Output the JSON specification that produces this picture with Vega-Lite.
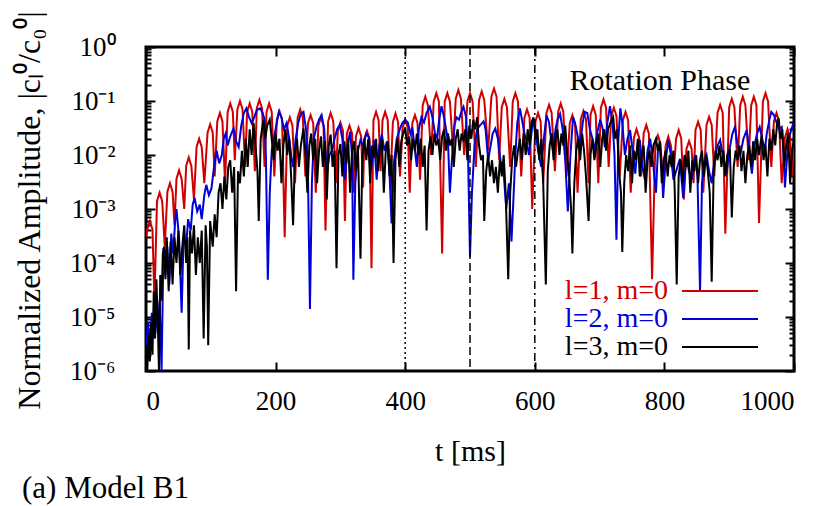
{
"$schema": "https://vega.github.io/schema/vega-lite/v6.json",
"width": 648, "height": 324,
"autosize": {"type": "none"},
"padding": {"left": 146, "top": 47, "right": 36, "bottom": 135},
"config": {
  "font": "Liberation Serif",
  "view": {"stroke": "black", "strokeWidth": 3},
  "axis": {"labelFont": "Liberation Serif", "titleFont": "Liberation Serif", "labelFontSize": 27, "titleFontSize": 30, "titleFontWeight": "normal", "labelColor": "black", "titleColor": "black", "domain": false, "grid": false, "tickColor": "black", "tickWidth": 2}
},
"title": {"text": "(a) Model B1", "orient": "bottom", "anchor": "start", "frame": "bounds", "font": "Liberation Serif", "fontSize": 31, "fontWeight": "normal", "color": "black", "offset": 8, "dx": 9},
"datasets": {
"red": [
{"t":0,"a":3e-4},
{"t":2,"a":4.2e-4},{"t":6,"a":6e-4},{"t":10,"a":4.2e-4},{"t":13,"a":2e-5},
{"t":17,"a":1.4e-3},{"t":21,"a":2e-3},{"t":25,"a":1.4e-3},{"t":29,"a":2e-4},
{"t":33,"a":2.1e-3},{"t":37,"a":3e-3},{"t":41,"a":2.1e-3},{"t":44,"a":5e-4},
{"t":47,"a":3.6e-3},{"t":51,"a":5.2e-3},{"t":55,"a":3.6e-3},{"t":59,"a":1e-3},
{"t":62,"a":6.3e-3},{"t":66,"a":9e-3},{"t":70,"a":6.3e-3},{"t":74,"a":1.5e-3},
{"t":78,"a":0.014},{"t":82,"a":0.02},{"t":86,"a":0.014},{"t":90,"a":3e-3},
{"t":95,"a":0.026},{"t":99,"a":0.037},{"t":103,"a":0.026},{"t":106,"a":4e-3},
{"t":110,"a":0.042},{"t":114,"a":0.06},{"t":118,"a":0.042},{"t":122,"a":3e-3},
{"t":126,"a":0.063},{"t":130,"a":0.09},{"t":134,"a":0.063},{"t":137,"a":8e-3},
{"t":141,"a":0.07},{"t":145,"a":0.1},{"t":149,"a":0.07},{"t":153,"a":6e-3},
{"t":156,"a":0.063},{"t":160,"a":0.09},{"t":164,"a":0.063},{"t":168,"a":5e-3},
{"t":171,"a":0.074},{"t":175,"a":0.105},{"t":179,"a":0.074},{"t":183,"a":6e-3},
{"t":186,"a":0.063},{"t":190,"a":0.09},{"t":194,"a":0.063},{"t":198,"a":4e-3},
{"t":202,"a":0.046},{"t":206,"a":0.065},{"t":210,"a":0.046},{"t":214,"a":3e-4},
{"t":218,"a":0.035},{"t":222,"a":0.05},{"t":226,"a":0.035},{"t":230,"a":3e-3},
{"t":234,"a":0.049},{"t":238,"a":0.07},{"t":242,"a":0.049},{"t":246,"a":4e-3},
{"t":250,"a":0.039},{"t":254,"a":0.055},{"t":258,"a":0.039},{"t":262,"a":2e-3},
{"t":266,"a":0.035},{"t":270,"a":0.05},{"t":274,"a":0.035},{"t":277,"a":4e-4},
{"t":281,"a":0.042},{"t":285,"a":0.06},{"t":289,"a":0.042},{"t":293,"a":3e-3},
{"t":296,"a":0.028},{"t":300,"a":0.04},{"t":304,"a":0.028},{"t":307,"a":6e-4},
{"t":310,"a":0.025},{"t":314,"a":0.035},{"t":318,"a":0.025},{"t":321,"a":2e-3},
{"t":324,"a":0.022},{"t":328,"a":0.032},{"t":332,"a":0.022},{"t":335,"a":2.5e-3},
{"t":337,"a":0.02},{"t":341,"a":0.028},{"t":345,"a":0.02},{"t":348,"a":8e-5},
{"t":351,"a":0.044},{"t":355,"a":0.063},{"t":359,"a":0.044},{"t":362,"a":5e-3},
{"t":365,"a":0.044},{"t":369,"a":0.063},{"t":373,"a":0.044},{"t":377,"a":3e-3},
{"t":381,"a":0.041},{"t":385,"a":0.059},{"t":389,"a":0.041},{"t":392,"a":4e-3},
{"t":396,"a":0.032},{"t":400,"a":0.045},{"t":404,"a":0.032},{"t":407,"a":2e-3},
{"t":411,"a":0.039},{"t":415,"a":0.055},{"t":419,"a":0.039},{"t":423,"a":3.5e-3},
{"t":427,"a":0.084},{"t":431,"a":0.12},{"t":435,"a":0.084},{"t":440,"a":0.01},
{"t":444,"a":0.098},{"t":448,"a":0.14},{"t":452,"a":0.098},{"t":457,"a":1.5e-4},
{"t":461,"a":0.098},{"t":465,"a":0.14},{"t":469,"a":0.098},{"t":474,"a":0.012},
{"t":478,"a":0.11},{"t":482,"a":0.16},{"t":486,"a":0.11},{"t":491,"a":0.01},
{"t":496,"a":0.098},{"t":500,"a":0.14},{"t":504,"a":0.098},{"t":509,"a":6e-3},
{"t":514,"a":0.105},{"t":518,"a":0.15},{"t":522,"a":0.105},{"t":528,"a":0.012},
{"t":533,"a":0.12},{"t":537,"a":0.17},{"t":541,"a":0.12},{"t":545,"a":8e-3},
{"t":549,"a":0.077},{"t":553,"a":0.11},{"t":557,"a":0.077},{"t":562,"a":6e-3},
{"t":566,"a":0.098},{"t":570,"a":0.14},{"t":574,"a":0.098},{"t":579,"a":4e-3},
{"t":584,"a":0.049},{"t":588,"a":0.07},{"t":592,"a":0.049},{"t":596,"a":1e-3},
{"t":601,"a":0.042},{"t":605,"a":0.06},{"t":609,"a":0.042},{"t":613,"a":3e-3},
{"t":618,"a":0.06},{"t":622,"a":0.085},{"t":626,"a":0.06},{"t":631,"a":5e-3},
{"t":636,"a":0.063},{"t":640,"a":0.09},{"t":644,"a":0.063},{"t":649,"a":4e-3},
{"t":654,"a":0.039},{"t":658,"a":0.055},{"t":662,"a":0.039},{"t":666,"a":2e-3},
{"t":671,"a":0.046},{"t":675,"a":0.065},{"t":679,"a":0.046},{"t":683,"a":3e-3},
{"t":686,"a":0.056},{"t":690,"a":0.08},{"t":694,"a":0.056},{"t":698,"a":3e-3},
{"t":702,"a":0.075},{"t":706,"a":0.107},{"t":710,"a":0.075},{"t":714,"a":6e-3},
{"t":718,"a":0.053},{"t":722,"a":0.075},{"t":726,"a":0.053},{"t":731,"a":4e-3},
{"t":736,"a":0.044},{"t":740,"a":0.063},{"t":744,"a":0.044},{"t":748,"a":2e-3},
{"t":753,"a":0.021},{"t":757,"a":0.03},{"t":761,"a":0.021},{"t":764,"a":4e-3},
{"t":768,"a":0.025},{"t":772,"a":0.036},{"t":776,"a":0.025},{"t":781,"a":5e-5},
{"t":786,"a":0.016},{"t":790,"a":0.023},{"t":794,"a":0.016},{"t":798,"a":3e-3},
{"t":802,"a":0.015},{"t":806,"a":0.022},{"t":810,"a":0.015},{"t":814,"a":4e-3},
{"t":818,"a":0.02},{"t":822,"a":0.029},{"t":826,"a":0.02},{"t":830,"a":1.5e-3},
{"t":834,"a":0.013},{"t":838,"a":0.018},{"t":842,"a":0.013},{"t":845,"a":3e-3},
{"t":848,"a":0.029},{"t":852,"a":0.041},{"t":856,"a":0.029},{"t":860,"a":2e-3},
{"t":865,"a":0.036},{"t":869,"a":0.051},{"t":873,"a":0.036},{"t":877,"a":4e-3},
{"t":882,"a":0.06},{"t":886,"a":0.085},{"t":890,"a":0.06},{"t":894,"a":3.5e-4},
{"t":900,"a":0.077},{"t":904,"a":0.11},{"t":908,"a":0.077},{"t":913,"a":6e-3},
{"t":917,"a":0.084},{"t":921,"a":0.12},{"t":925,"a":0.084},{"t":930,"a":8e-3},
{"t":934,"a":0.084},{"t":938,"a":0.12},{"t":942,"a":0.084},{"t":946,"a":5.5e-4},
{"t":952,"a":0.098},{"t":956,"a":0.14},{"t":960,"a":0.098},{"t":965,"a":6e-3},
{"t":969,"a":0.042},{"t":973,"a":0.06},{"t":977,"a":0.042},{"t":981,"a":3e-3},
{"t":986,"a":0.021},{"t":990,"a":0.03},{"t":994,"a":0.021},{"t":997,"a":4e-3},
{"t":1000,"a":0.015}
],
"blue": [
{"t":0,"a":3e-6},{"t":3,"a":8e-6},{"t":6,"a":3e-6},{"t":9,"a":1.2e-5},{"t":12,"a":4e-6},{"t":15,"a":1.5e-5},{"t":18,"a":5e-6},{"t":21,"a":2e-5},{"t":24,"a":1e-6},{"t":27,"a":1.9e-4},
{"t":30,"a":6e-5},{"t":33,"a":2e-4},{"t":36,"a":4e-5},{"t":39,"a":3.5e-4},{"t":42,"a":1.5e-4},{"t":45,"a":6e-4},{"t":47,"a":1e-3},{"t":51,"a":3e-4},{"t":55,"a":1.2e-5},{"t":58,"a":3e-4},
{"t":62,"a":2e-4},{"t":65,"a":6.5e-4},{"t":69,"a":4e-4},{"t":72,"a":1.2e-3},{"t":75,"a":1.6e-3},{"t":79,"a":9e-4},{"t":83,"a":1.2e-3},{"t":86,"a":6.5e-4},{"t":90,"a":1.8e-3},{"t":93,"a":2.8e-3},
{"t":97,"a":1.8e-3},{"t":101,"a":2.4e-3},{"t":105,"a":6e-3},{"t":109,"a":0.012},{"t":113,"a":7e-3},{"t":117,"a":0.01},{"t":120,"a":0.02},{"t":123,"a":0.025},{"t":126,"a":0.015},{"t":130,"a":0.022},
{"t":135,"a":0.031},{"t":139,"a":0.018},{"t":143,"a":0.014},{"t":147,"a":0.035},{"t":151,"a":0.06},{"t":155,"a":0.073},{"t":159,"a":0.05},{"t":163,"a":0.039},{"t":167,"a":0.05},{"t":171,"a":0.068},
{"t":176,"a":0.073},{"t":180,"a":0.06},{"t":183,"a":0.045},{"t":185,"a":0.01},{"t":188,"a":4.9e-5},{"t":191,"a":2e-3},{"t":194,"a":0.012},{"t":197,"a":0.019},{"t":201,"a":0.035},{"t":205,"a":0.063},
{"t":209,"a":0.05},{"t":213,"a":0.03},{"t":217,"a":0.039},{"t":221,"a":0.02},{"t":225,"a":8e-3},{"t":227,"a":6e-3},{"t":231,"a":0.02},{"t":235,"a":0.04},{"t":239,"a":0.058},{"t":243,"a":0.063},
{"t":247,"a":0.03},{"t":250,"a":4e-3},{"t":253,"a":1.4e-5},{"t":256,"a":3e-3},{"t":259,"a":0.02},{"t":263,"a":0.033},{"t":267,"a":0.045},{"t":271,"a":0.055},{"t":275,"a":0.03},{"t":279,"a":4.5e-3},
{"t":283,"a":0.01},{"t":287,"a":0.012},{"t":291,"a":0.02},{"t":295,"a":0.03},{"t":299,"a":0.036},{"t":303,"a":0.02},{"t":307,"a":3.5e-3},{"t":311,"a":0.015},{"t":315,"a":0.027},{"t":318,"a":0.01},
{"t":320,"a":4.9e-5},{"t":323,"a":3e-3},{"t":327,"a":0.012},{"t":331,"a":0.019},{"t":335,"a":0.015},{"t":340,"a":0.025},{"t":344,"a":0.021},{"t":348,"a":6e-3},{"t":352,"a":0.019},{"t":356,"a":3.5e-3},
{"t":360,"a":0.015},{"t":364,"a":0.024},{"t":368,"a":0.012},{"t":372,"a":0.018},{"t":376,"a":4e-3},{"t":379,"a":5.4e-4},{"t":383,"a":8e-3},{"t":387,"a":0.02},{"t":392,"a":0.031},{"t":396,"a":0.04},
{"t":400,"a":0.045},{"t":404,"a":0.04},{"t":408,"a":0.025},{"t":411,"a":0.033},{"t":415,"a":0.012},{"t":418,"a":6e-3},{"t":421,"a":0.03},{"t":425,"a":0.05},{"t":429,"a":0.04},{"t":433,"a":0.06},
{"t":438,"a":0.078},{"t":442,"a":0.05},{"t":446,"a":0.025},{"t":449,"a":0.02},{"t":453,"a":0.05},{"t":456,"a":0.08},{"t":460,"a":0.05},{"t":463,"a":0.03},{"t":466,"a":0.018},{"t":469,"a":2e-3},
{"t":472,"a":8e-3},{"t":476,"a":0.035},{"t":479,"a":0.05},{"t":483,"a":0.045},{"t":486,"a":0.06},{"t":490,"a":0.078},{"t":494,"a":0.05},{"t":497,"a":0.01},{"t":500,"a":1.3e-4},{"t":503,"a":2e-3},
{"t":507,"a":0.015},{"t":511,"a":0.03},{"t":515,"a":0.035},{"t":518,"a":0.038},{"t":521,"a":0.042},{"t":524,"a":0.03},{"t":528,"a":8e-3},{"t":531,"a":0.013},{"t":535,"a":0.025},{"t":539,"a":0.031},
{"t":543,"a":0.02},{"t":547,"a":8e-3},{"t":552,"a":4.5e-3},{"t":556,"a":1e-3},{"t":560,"a":3e-3},{"t":564,"a":2.5e-4},{"t":567,"a":1.5e-3},{"t":570,"a":0.01},{"t":573,"a":0.04},{"t":577,"a":0.073},
{"t":581,"a":0.04},{"t":584,"a":0.025},{"t":587,"a":0.019},{"t":591,"a":0.01},{"t":594,"a":0.02},{"t":597,"a":0.045},{"t":601,"a":0.03},{"t":605,"a":0.012},{"t":610,"a":6e-3},{"t":614,"a":0.02},
{"t":618,"a":0.055},{"t":622,"a":0.04},{"t":625,"a":0.02},{"t":628,"a":0.012},{"t":632,"a":0.03},{"t":635,"a":0.045},{"t":639,"a":0.058},{"t":643,"a":0.03},{"t":647,"a":8e-3},{"t":651,"a":9e-4},
{"t":655,"a":0.01},{"t":659,"a":0.05},{"t":663,"a":0.035},{"t":667,"a":0.02},{"t":670,"a":0.015},{"t":674,"a":0.04},{"t":677,"a":0.063},{"t":681,"a":0.06},{"t":685,"a":0.03},{"t":689,"a":0.02},
{"t":692,"a":0.012},{"t":696,"a":0.025},{"t":701,"a":0.045},{"t":705,"a":0.03},{"t":708,"a":0.014},{"t":712,"a":0.04},{"t":716,"a":0.08},{"t":720,"a":0.04},{"t":723,"a":0.01},{"t":726,"a":2.7e-4},
{"t":729,"a":0.02},{"t":732,"a":0.073},{"t":735,"a":0.04},{"t":739,"a":0.01},{"t":743,"a":0.02},{"t":747,"a":0.029},{"t":751,"a":0.012},{"t":755,"a":4.5e-3},{"t":758,"a":0.012},{"t":762,"a":0.019},
{"t":766,"a":6e-3},{"t":770,"a":3.5e-3},{"t":774,"a":0.012},{"t":778,"a":0.02},{"t":782,"a":8e-3},{"t":787,"a":2e-3},{"t":790,"a":0.012},{"t":793,"a":0.016},{"t":796,"a":6e-3},{"t":798,"a":1.6e-3},
{"t":802,"a":8e-3},{"t":806,"a":0.019},{"t":810,"a":0.01},{"t":814,"a":3.5e-3},{"t":818,"a":5e-3},{"t":824,"a":8.5e-3},{"t":827,"a":3e-3},{"t":829,"a":1.6e-3},{"t":832,"a":5e-3},{"t":834,"a":9e-3},
{"t":838,"a":5e-3},{"t":842,"a":3.5e-3},{"t":847,"a":0.01},{"t":851,"a":4e-3},{"t":855,"a":3e-5},{"t":858,"a":3e-3},{"t":862,"a":8e-3},{"t":865,"a":0.01},{"t":869,"a":5e-3},{"t":873,"a":3e-3},
{"t":877,"a":8e-3},{"t":882,"a":0.015},{"t":886,"a":0.019},{"t":890,"a":0.01},{"t":894,"a":6e-3},{"t":896,"a":4.5e-3},{"t":900,"a":0.012},{"t":905,"a":0.025},{"t":909,"a":0.033},{"t":913,"a":0.015},
{"t":917,"a":0.01},{"t":922,"a":0.02},{"t":927,"a":0.029},{"t":931,"a":0.012},{"t":935,"a":4.5e-3},{"t":939,"a":0.015},{"t":943,"a":0.025},{"t":947,"a":0.033},{"t":951,"a":0.02},{"t":955,"a":0.012},
{"t":958,"a":0.025},{"t":962,"a":0.045},{"t":965,"a":0.063},{"t":969,"a":0.055},{"t":973,"a":0.04},{"t":977,"a":0.03},{"t":981,"a":0.033},{"t":984,"a":0.01},{"t":986,"a":2.5e-3},{"t":989,"a":8e-3},
{"t":992,"a":0.02},{"t":995,"a":0.027},{"t":999,"a":0.039},{"t":1000,"a":0.04}
],
"black": [
{"t":0,"a":2e-6},{"t":2,"a":1e-6},{"t":4,"a":5e-6},{"t":6,"a":1.5e-6},{"t":8,"a":8e-6},{"t":10,"a":2e-6},{"t":12,"a":3e-5},{"t":14,"a":4e-6},{"t":16,"a":5e-5},{"t":18,"a":1e-5},
{"t":20,"a":1e-6},{"t":22,"a":6e-5},{"t":24,"a":2e-5},{"t":26,"a":1.5e-4},{"t":28,"a":2e-4},{"t":30,"a":5e-5},{"t":32,"a":3e-4},{"t":35,"a":3e-5},{"t":38,"a":2.5e-4},{"t":41,"a":4e-5},
{"t":44,"a":3e-4},{"t":47,"a":1e-4},{"t":50,"a":4e-4},{"t":53,"a":6e-5},{"t":56,"a":2e-4},{"t":59,"a":5e-4},{"t":62,"a":1e-4},{"t":64,"a":3e-4},{"t":66,"a":2.5e-6},{"t":68,"a":4e-4},
{"t":71,"a":1.5e-4},{"t":74,"a":5e-4},{"t":77,"a":6e-5},{"t":80,"a":3e-4},{"t":83,"a":1e-4},{"t":86,"a":4e-4},{"t":89,"a":4e-6},{"t":92,"a":5e-4},{"t":94,"a":2e-4},{"t":96,"a":3e-6},
{"t":99,"a":6e-4},{"t":103,"a":2e-4},{"t":106,"a":8e-4},{"t":109,"a":3e-4},{"t":112,"a":2e-3},{"t":115,"a":3e-3},{"t":118,"a":1e-3},{"t":121,"a":4e-3},{"t":124,"a":1.5e-3},{"t":127,"a":6e-3},
{"t":130,"a":8e-3},{"t":133,"a":2e-3},{"t":136,"a":6e-3},{"t":139,"a":3e-5},{"t":142,"a":5e-3},{"t":145,"a":3e-3},{"t":148,"a":0.012},{"t":151,"a":4e-3},{"t":154,"a":0.02},{"t":157,"a":6e-3},
{"t":160,"a":0.03},{"t":163,"a":0.01},{"t":166,"a":0.039},{"t":169,"a":0.015},{"t":172,"a":5e-3},{"t":174,"a":6e-4},{"t":177,"a":0.02},{"t":181,"a":0.045},{"t":184,"a":0.02},{"t":187,"a":0.035},
{"t":191,"a":0.045},{"t":194,"a":0.02},{"t":197,"a":8e-3},{"t":200,"a":0.025},{"t":203,"a":0.012},{"t":206,"a":0.02},{"t":209,"a":3e-3},{"t":212,"a":0.015},{"t":215,"a":0.03},{"t":218,"a":0.01},
{"t":221,"a":0.02},{"t":224,"a":4e-3},{"t":227,"a":5e-4},{"t":230,"a":0.012},{"t":233,"a":0.02},{"t":236,"a":6e-3},{"t":239,"a":0.015},{"t":243,"a":0.031},{"t":246,"a":0.012},{"t":249,"a":2e-3},
{"t":252,"a":0.015},{"t":255,"a":0.025},{"t":258,"a":8e-3},{"t":261,"a":0.02},{"t":264,"a":3e-3},{"t":267,"a":0.012},{"t":270,"a":0.022},{"t":273,"a":6e-3},{"t":276,"a":0.018},{"t":279,"a":1.5e-3},
{"t":282,"a":0.015},{"t":285,"a":0.024},{"t":288,"a":6e-3},{"t":291,"a":0.012},{"t":294,"a":8e-5},{"t":297,"a":0.01},{"t":300,"a":0.016},{"t":303,"a":4e-3},{"t":306,"a":0.018},{"t":309,"a":7e-3},
{"t":312,"a":0.02},{"t":315,"a":2e-3},{"t":318,"a":0.012},{"t":321,"a":0.018},{"t":324,"a":5e-3},{"t":327,"a":0.015},{"t":331,"a":1.2e-4},{"t":334,"a":0.01},{"t":337,"a":0.02},{"t":340,"a":8e-3},
{"t":343,"a":0.02},{"t":346,"a":3e-3},{"t":349,"a":0.015},{"t":352,"a":9e-3},{"t":355,"a":0.02},{"t":358,"a":5e-3},{"t":361,"a":0.013},{"t":364,"a":0.02},{"t":367,"a":2e-3},{"t":370,"a":0.012},
{"t":373,"a":0.018},{"t":376,"a":4e-3},{"t":379,"a":0.01},{"t":382,"a":1e-4},{"t":385,"a":8e-3},{"t":388,"a":0.02},{"t":391,"a":6e-3},{"t":394,"a":0.018},{"t":397,"a":0.025},{"t":400,"a":0.032},
{"t":403,"a":0.015},{"t":406,"a":0.022},{"t":409,"a":8e-3},{"t":412,"a":0.02},{"t":415,"a":0.012},{"t":418,"a":0.025},{"t":421,"a":0.01},{"t":424,"a":0.02},{"t":427,"a":6e-3},{"t":430,"a":0.015},
{"t":433,"a":4e-4},{"t":436,"a":0.012},{"t":439,"a":0.022},{"t":442,"a":0.01},{"t":445,"a":0.025},{"t":448,"a":0.015},{"t":451,"a":0.02},{"t":454,"a":8e-3},{"t":457,"a":0.022},{"t":460,"a":0.03},
{"t":463,"a":0.012},{"t":466,"a":0.025},{"t":469,"a":0.015},{"t":472,"a":0.02},{"t":475,"a":6e-3},{"t":478,"a":0.02},{"t":481,"a":0.03},{"t":484,"a":0.012},{"t":487,"a":0.025},{"t":490,"a":0.018},
{"t":493,"a":0.03},{"t":496,"a":8e-3},{"t":499,"a":0.035},{"t":502,"a":0.02},{"t":505,"a":0.045},{"t":508,"a":0.03},{"t":511,"a":0.05},{"t":514,"a":0.015},{"t":517,"a":8e-3},{"t":520,"a":0.01},
{"t":522,"a":6e-4},{"t":525,"a":5e-3},{"t":528,"a":0.01},{"t":531,"a":4e-3},{"t":534,"a":8e-3},{"t":537,"a":3e-3},{"t":540,"a":6e-3},{"t":543,"a":2e-3},{"t":546,"a":8e-3},{"t":549,"a":4e-3},
{"t":552,"a":0.01},{"t":555,"a":2e-3},{"t":559,"a":5e-5},{"t":562,"a":2e-3},{"t":565,"a":8e-3},{"t":568,"a":0.015},{"t":571,"a":6e-3},{"t":574,"a":0.012},{"t":577,"a":0.02},{"t":580,"a":8e-3},
{"t":583,"a":0.025},{"t":586,"a":0.01},{"t":589,"a":0.03},{"t":592,"a":0.015},{"t":595,"a":0.04},{"t":598,"a":0.05},{"t":601,"a":0.02},{"t":604,"a":0.03},{"t":607,"a":8e-3},{"t":610,"a":0.02},
{"t":613,"a":3e-3},{"t":617,"a":4e-5},{"t":620,"a":5e-3},{"t":623,"a":0.015},{"t":626,"a":0.025},{"t":629,"a":8e-3},{"t":632,"a":0.02},{"t":635,"a":0.03},{"t":638,"a":0.01},{"t":641,"a":0.025},
{"t":644,"a":0.015},{"t":647,"a":0.035},{"t":650,"a":0.01},{"t":653,"a":4e-3},{"t":656,"a":1e-3},{"t":658,"a":1.5e-4},{"t":661,"a":3e-3},{"t":664,"a":0.012},{"t":667,"a":0.02},{"t":670,"a":8e-3},
{"t":673,"a":0.025},{"t":676,"a":0.012},{"t":679,"a":4e-3},{"t":683,"a":6e-4},{"t":686,"a":0.01},{"t":689,"a":0.02},{"t":692,"a":8e-3},{"t":695,"a":0.015},{"t":698,"a":0.025},{"t":701,"a":6e-3},
{"t":704,"a":0.02},{"t":707,"a":0.03},{"t":710,"a":0.012},{"t":713,"a":0.03},{"t":717,"a":0.04},{"t":721,"a":0.05},{"t":724,"a":0.02},{"t":727,"a":0.03},{"t":730,"a":5e-3},{"t":733,"a":2e-3},
{"t":735,"a":1.6e-4},{"t":738,"a":3e-3},{"t":741,"a":0.01},{"t":744,"a":5e-3},{"t":747,"a":0.015},{"t":750,"a":3e-3},{"t":753,"a":0.012},{"t":756,"a":8e-3},{"t":759,"a":0.02},{"t":762,"a":4e-3},
{"t":765,"a":0.01},{"t":768,"a":0.015},{"t":771,"a":2e-3},{"t":774,"a":8e-3},{"t":777,"a":0.012},{"t":780,"a":6e-3},{"t":783,"a":0.015},{"t":787,"a":0.02},{"t":790,"a":0.012},{"t":793,"a":0.018},
{"t":796,"a":3e-3},{"t":799,"a":8e-3},{"t":802,"a":0.012},{"t":805,"a":4e-3},{"t":808,"a":0.01},{"t":811,"a":6e-3},{"t":814,"a":0.012},{"t":816,"a":2e-3},{"t":819,"a":4e-5},{"t":822,"a":4e-3},
{"t":825,"a":8e-3},{"t":828,"a":3e-3},{"t":831,"a":0.01},{"t":834,"a":6e-3},{"t":837,"a":0.012},{"t":840,"a":2e-3},{"t":843,"a":8e-3},{"t":846,"a":5e-3},{"t":849,"a":0.01},{"t":852,"a":3e-3},
{"t":855,"a":8e-3},{"t":858,"a":0.012},{"t":861,"a":4e-3},{"t":864,"a":0.01},{"t":867,"a":5e-3},{"t":870,"a":2e-3},{"t":873,"a":4.5e-5},{"t":876,"a":5e-3},{"t":879,"a":0.012},{"t":882,"a":8e-3},
{"t":885,"a":0.015},{"t":888,"a":6e-3},{"t":891,"a":0.012},{"t":894,"a":4e-3},{"t":897,"a":0.01},{"t":901,"a":0.013},{"t":904,"a":7e-4},{"t":907,"a":6e-3},{"t":910,"a":0.012},{"t":913,"a":8e-3},
{"t":916,"a":0.015},{"t":919,"a":5e-3},{"t":922,"a":0.012},{"t":925,"a":3e-3},{"t":928,"a":0.01},{"t":931,"a":0.015},{"t":934,"a":6e-3},{"t":937,"a":0.018},{"t":940,"a":8e-3},{"t":943,"a":0.02},
{"t":946,"a":0.01},{"t":950,"a":0.023},{"t":953,"a":8e-3},{"t":956,"a":0.015},{"t":959,"a":4e-3},{"t":962,"a":0.02},{"t":965,"a":0.012},{"t":968,"a":0.03},{"t":971,"a":0.015},{"t":974,"a":0.04},
{"t":976,"a":0.048},{"t":979,"a":0.02},{"t":982,"a":0.03},{"t":985,"a":6e-3},{"t":988,"a":0.015},{"t":991,"a":0.025},{"t":994,"a":3e-3},{"t":997,"a":0.012},{"t":1000,"a":0.02}
]
},
"layer": [
{
  "data": {"name": "red"},
  "mark": {"type": "line", "clip": true, "strokeWidth": 2},
  "encoding": {
    "x": {"field": "t", "type": "quantitative", "scale": {"domain": [0, 1000], "nice": false},
      "axis": {"orient": "bottom", "values": [0, 200, 400, 600, 800, 1000], "format": "d", "tickSize": -9, "labelPadding": 26, "title": "t [ms]", "titlePadding": 22}},
    "y": {"field": "a", "type": "quantitative", "scale": {"type": "log", "domain": [1e-6, 1], "nice": false},
      "axis": {"orient": "left",
        "values": [1e-6,2e-6,3e-6,4e-6,5e-6,6e-6,7e-6,8e-6,9e-6,1e-5,2e-5,3e-5,4e-5,5e-5,6e-5,7e-5,8e-5,9e-5,1e-4,2e-4,3e-4,4e-4,5e-4,6e-4,7e-4,8e-4,9e-4,1e-3,2e-3,3e-3,4e-3,5e-3,6e-3,7e-3,8e-3,9e-3,0.01,0.02,0.03,0.04,0.05,0.06,0.07,0.08,0.09,0.1,0.2,0.3,0.4,0.5,0.6,0.7,0.8,0.9,1],
        "labelExpr": "abs(log(datum.value)/LN10 - round(log(datum.value)/LN10)) < 0.001 ? '10' + (datum.value < 0.5 ? '⁻' : '') + ['⁰','¹','²','³','⁴','⁵','⁶'][abs(round(log(datum.value)/LN10))] : ''",
        "tickSize": {"condition": {"test": "abs(log(datum.value)/LN10 - round(log(datum.value)/LN10)) < 0.001", "value": -9}, "value": -5},
        "labelPadding": 40, "labelFontSize": 27,
        "title": "Normalized Amplitude, |cₗ⁰/c₀⁰|", "titleFontSize": 32, "titleX": -100, "titleY": 163, "titleAngle": 270, "titleAlign": "center", "titleBaseline": "bottom"}},
    "color": {"datum": "l=1, m=0", "type": "nominal",
      "scale": {"domain": ["l=1, m=0", "l=2, m=0", "l=3, m=0"], "range": ["#d00000", "#0000d8", "#000000"]},
      "legend": {"title": null, "orient": "none", "legendX": 560, "legendY": 230, "symbolType": "M-4.75,0H4.75", "symbolSize": 256, "symbolStrokeWidth": 2, "labelAlign": "right", "labelOffset": -66, "labelFontSize": 28, "labelFont": "Liberation Serif", "rowPadding": 0, "padding": 0, "labelLimit": 300, "zindex": 1,
        "encode": {"labels": {"update": {"fill": {"scale": "color", "field": "value"}}}}}}
  }
},
{
  "data": {"name": "blue"},
  "mark": {"type": "line", "clip": true, "strokeWidth": 2},
  "encoding": {
    "x": {"field": "t", "type": "quantitative", "axis": {"orient": "top", "values": [0, 200, 400, 600, 800, 1000], "labels": false, "tickSize": -9, "title": null}},
    "y": {"field": "a", "type": "quantitative",
      "axis": {"orient": "right", "labels": false, "title": null,
        "values": [1e-6,2e-6,3e-6,4e-6,5e-6,6e-6,7e-6,8e-6,9e-6,1e-5,2e-5,3e-5,4e-5,5e-5,6e-5,7e-5,8e-5,9e-5,1e-4,2e-4,3e-4,4e-4,5e-4,6e-4,7e-4,8e-4,9e-4,1e-3,2e-3,3e-3,4e-3,5e-3,6e-3,7e-3,8e-3,9e-3,0.01,0.02,0.03,0.04,0.05,0.06,0.07,0.08,0.09,0.1,0.2,0.3,0.4,0.5,0.6,0.7,0.8,0.9,1],
        "tickSize": {"condition": {"test": "abs(log(datum.value)/LN10 - round(log(datum.value)/LN10)) < 0.001", "value": -9}, "value": -5}}},
    "color": {"datum": "l=2, m=0", "type": "nominal"}
  }
},
{
  "data": {"name": "black"},
  "mark": {"type": "line", "clip": true, "strokeWidth": 2},
  "encoding": {
    "x": {"field": "t", "type": "quantitative", "axis": null},
    "y": {"field": "a", "type": "quantitative", "axis": null},
    "color": {"datum": "l=3, m=0", "type": "nominal"}
  }
},
{
  "data": {"values": [{"t": 400, "k": "a"}, {"t": 500, "k": "b"}, {"t": 600, "k": "c"}]},
  "mark": {"type": "rule", "color": "black", "strokeWidth": 1.5},
  "encoding": {
    "x": {"field": "t", "type": "quantitative", "axis": null},
    "strokeDash": {"field": "k", "type": "nominal", "scale": {"domain": ["a", "b", "c"], "range": [[2, 3], [8, 4], [8, 4, 2, 4]]}, "legend": null}
  }
},
{
  "data": {"values": [{}]},
  "mark": {"type": "text", "font": "Liberation Serif", "fontSize": 30, "align": "center", "baseline": "alphabetic", "color": "black"},
  "encoding": {
    "x": {"datum": 793, "type": "quantitative", "axis": null},
    "y": {"datum": 0.16, "type": "quantitative", "axis": null},
    "text": {"value": "Rotation Phase"}
  }
}
],
"resolve": {"axis": {"x": "independent", "y": "independent"}}
}
